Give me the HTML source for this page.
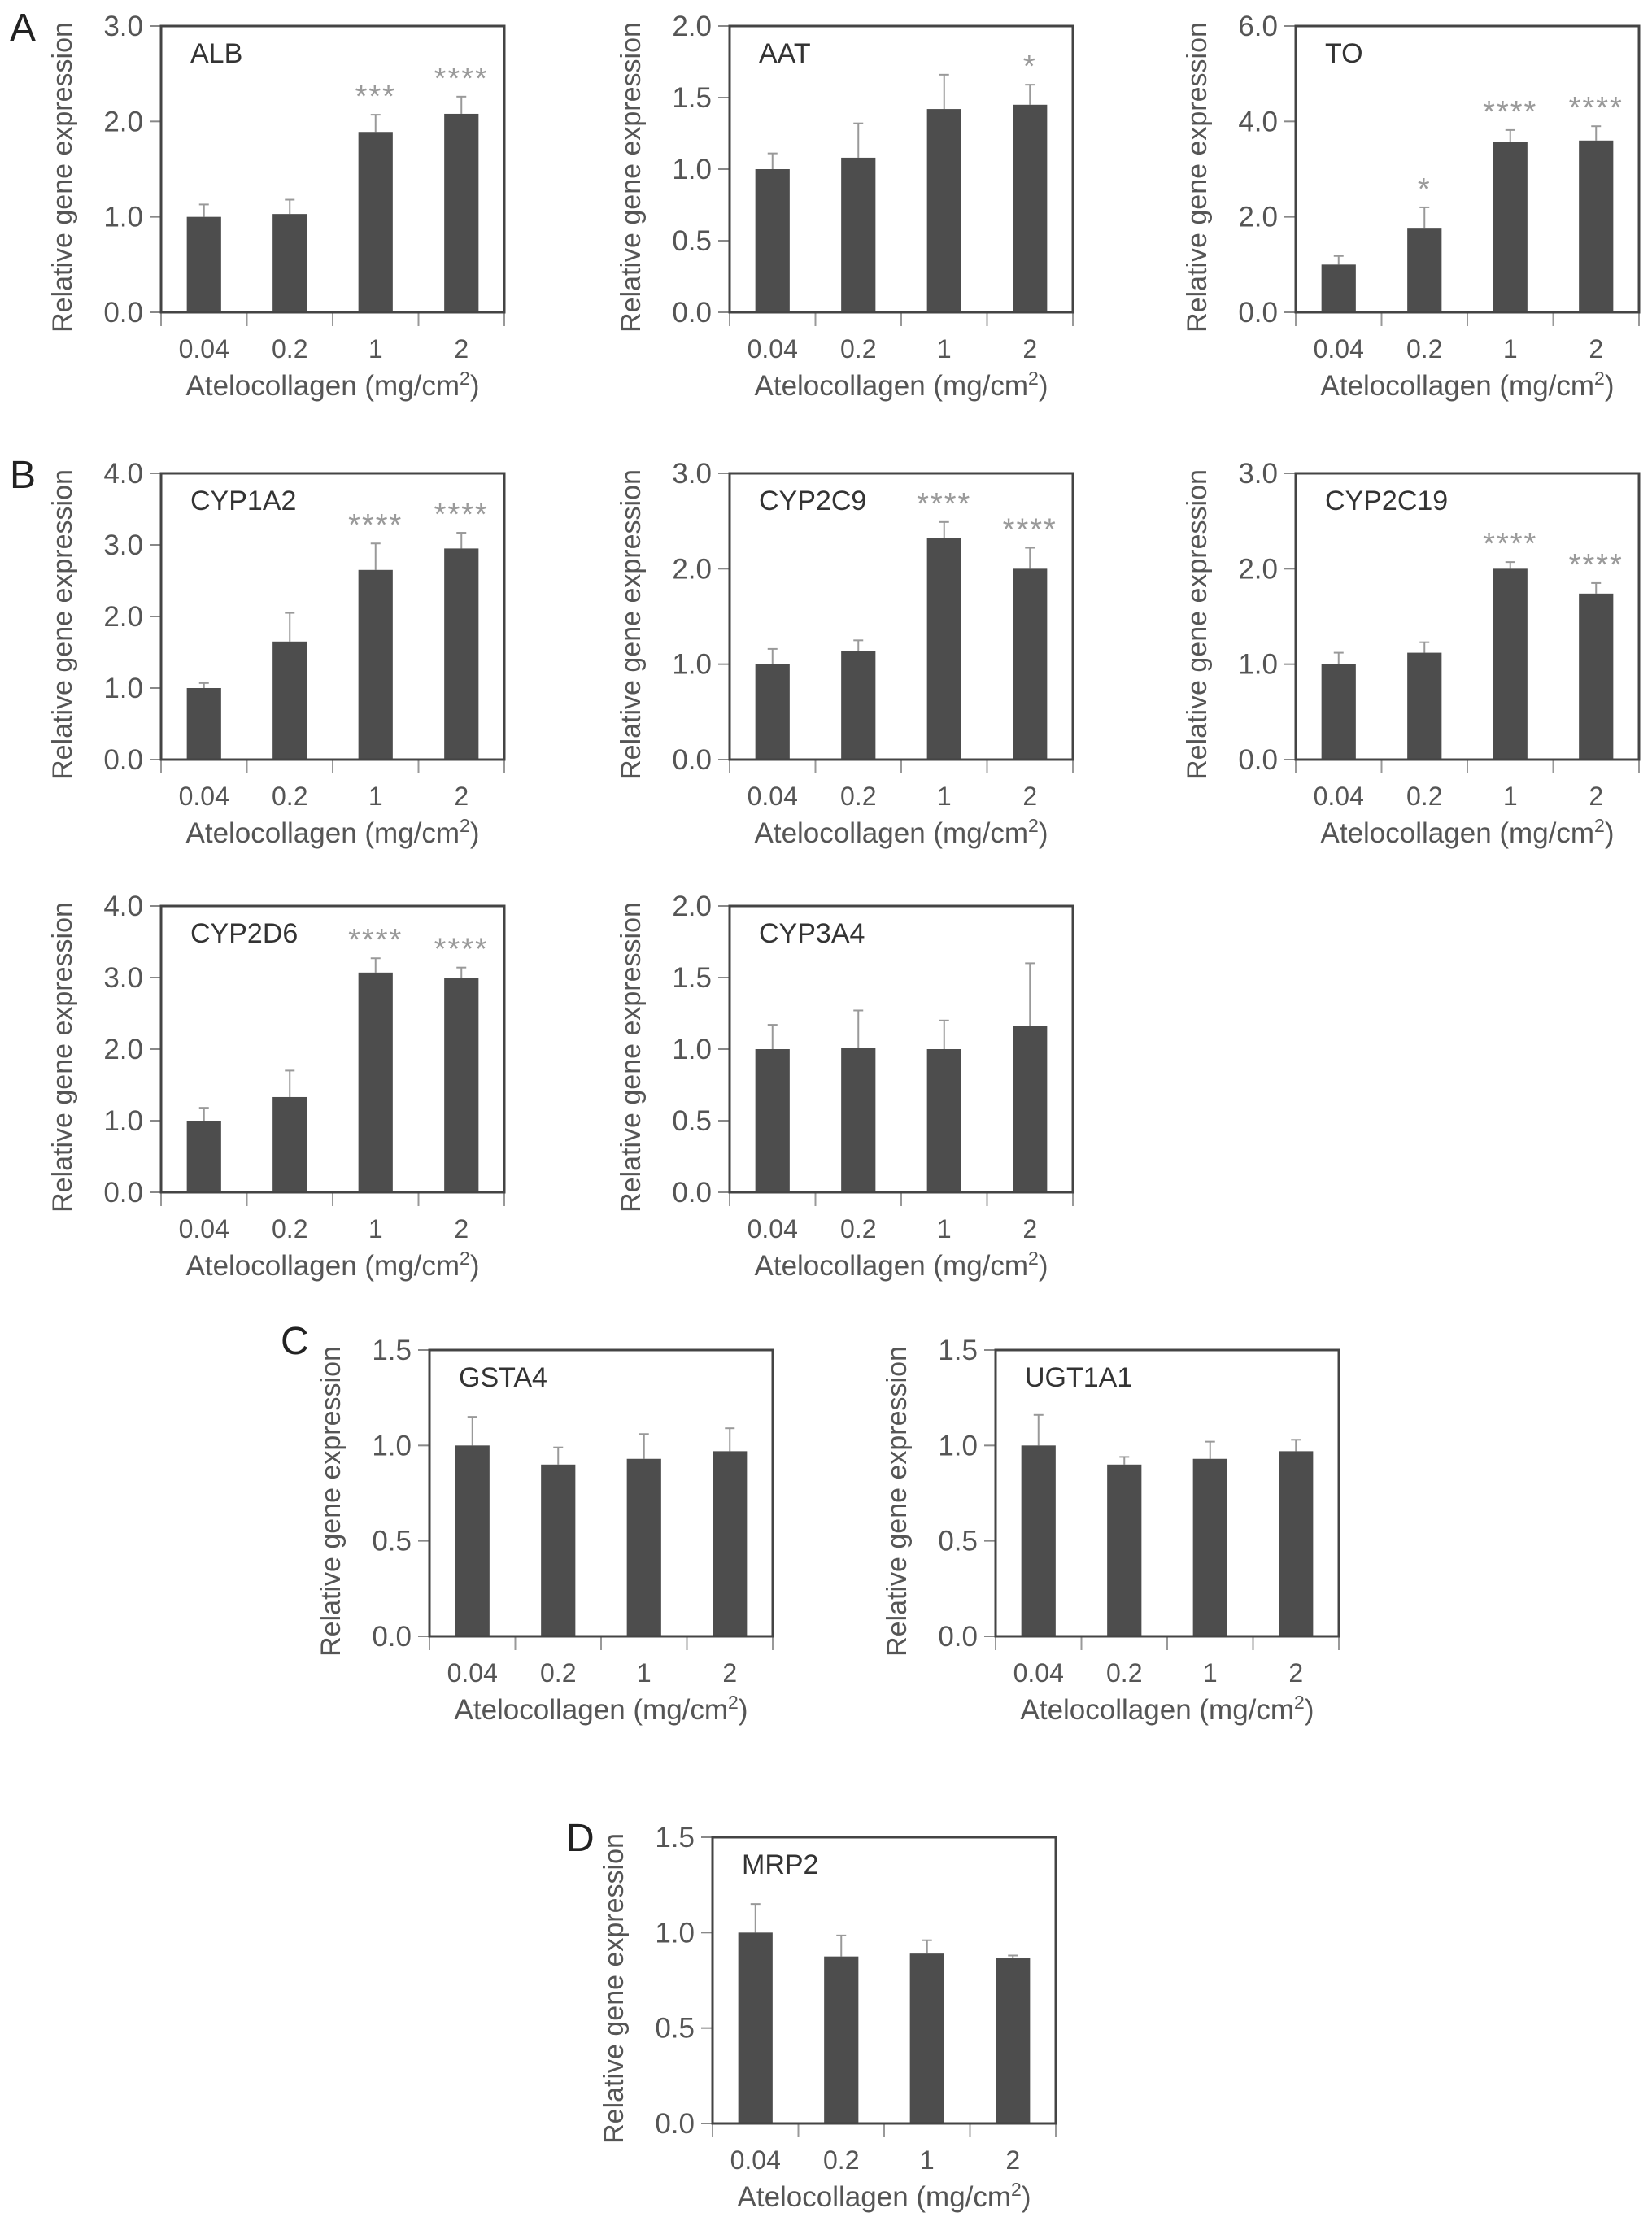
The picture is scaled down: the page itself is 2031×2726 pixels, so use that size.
<!DOCTYPE html>
<html><head><meta charset="utf-8">
<style>
html,body{margin:0;padding:0;background:#fff;}
svg{display:block;font-family:"Liberation Sans",sans-serif;}
</style></head>
<body>
<svg id="fig" width="2031" height="2726" viewBox="0 0 2031 2726" xmlns="http://www.w3.org/2000/svg"></svg>
<script>
const categories = ["0.04","0.2","1","2"];
const genes = ["ALB","AAT","TO","CYP1A2","CYP2C9","CYP2C19","CYP2D6","CYP3A4","GSTA4","UGT1A1","MRP2"];
const alb = [1.0,1.03,1.89,2.08];
const albErr = [0.13,0.15,0.18,0.18];
const aat = [1.0,1.08,1.42,1.45];
const aatErr = [0.11,0.24,0.24,0.14];
const to = [1.0,1.77,3.57,3.6];
const toErr = [0.18,0.43,0.25,0.3];
const cyp1a2 = [1.0,1.65,2.65,2.95];
const cyp1a2Err = [0.07,0.4,0.37,0.22];
const cyp2c9 = [1.0,1.14,2.32,2.0];
const cyp2c9Err = [0.16,0.11,0.17,0.22];
const cyp2c19 = [1.0,1.12,2.0,1.74];
const cyp2c19Err = [0.12,0.11,0.07,0.11];
const cyp2d6 = [1.0,1.33,3.07,2.99];
const cyp2d6Err = [0.18,0.37,0.2,0.15];
const cyp3a4 = [1.0,1.01,1.0,1.16];
const cyp3a4Err = [0.17,0.26,0.2,0.44];
const gsta4 = [1.0,0.9,0.93,0.97];
const gsta4Err = [0.15,0.09,0.13,0.12];
const ugt1a1 = [1.0,0.9,0.93,0.97];
const ugt1a1Err = [0.16,0.04,0.09,0.06];
const mrp2 = [1.0,0.875,0.89,0.865];
const mrp2Err = [0.15,0.11,0.07,0.015];
const albStars = ["","","***","****"];
const aatStars = ["","","","*"];
const toStars = ["","*","****","****"];
const cyp1a2Stars = ["","","****","****"];
const cyp2c9Stars = ["","","****","****"];
const cyp2c19Stars = ["","","****","****"];
const cyp2d6Stars = ["","","****","****"];
const noStars = ["","","",""];
const ticks3 = [0,1,2,3];
const ticks2 = [0,0.5,1,1.5,2];
const ticks6 = [0,2,4,6];
const ticks4 = [0,1,2,3,4];
const ticks15 = [0,0.5,1,1.5];

const NS="http://www.w3.org/2000/svg";
const svg=document.getElementById('fig');
function mk(tag,attrs,parent){const e=document.createElementNS(NS,tag);for(const k in attrs)e.setAttribute(k,attrs[k]);(parent||svg).appendChild(e);return e;}

const panels=[
 {g:0,v:alb,e:albErr,s:albStars,t:ticks3,x:198,y:32},
 {g:1,v:aat,e:aatErr,s:aatStars,t:ticks2,x:897,y:32},
 {g:2,v:to,e:toErr,s:toStars,t:ticks6,x:1593,y:32},
 {g:3,v:cyp1a2,e:cyp1a2Err,s:cyp1a2Stars,t:ticks4,x:198,y:582},
 {g:4,v:cyp2c9,e:cyp2c9Err,s:cyp2c9Stars,t:ticks3,x:897,y:582},
 {g:5,v:cyp2c19,e:cyp2c19Err,s:cyp2c19Stars,t:ticks3,x:1593,y:582},
 {g:6,v:cyp2d6,e:cyp2d6Err,s:cyp2d6Stars,t:ticks4,x:198,y:1114},
 {g:7,v:cyp3a4,e:cyp3a4Err,s:noStars,t:ticks2,x:897,y:1114},
 {g:8,v:gsta4,e:gsta4Err,s:noStars,t:ticks15,x:528,y:1660},
 {g:9,v:ugt1a1,e:ugt1a1Err,s:noStars,t:ticks15,x:1224,y:1660},
 {g:10,v:mrp2,e:mrp2Err,s:noStars,t:ticks15,x:876,y:2259}
];
const W=422,H=352;

panels.forEach(p=>{
  const name=genes[p.g].toLowerCase();
  const g=mk('g',{});
  
  
  const max=p.t[p.t.length-1];
  const yS=v=>p.y+H-(v/max)*H;
  const slot=W/categories.length;
  const xC=i=>p.x+slot*(i+0.5);
  p.t.forEach(t=>{
    const yy=yS(t);
    const tl=mk('line',{x1:p.x-14,x2:p.x,y1:yy,y2:yy,stroke:'#888','stroke-width':2},g);
    
    
    const tx=mk('text',{x:p.x-22,y:yy+12,'text-anchor':'end','font-size':35,fill:'#555'},g);
    tx.textContent=t.toFixed(1);
    
    
  });
  for(let i=0;i<=categories.length;i++){
    const xx=p.x+slot*i;
    const l=mk('line',{x1:xx,x2:xx,y1:p.y+H,y2:p.y+H+17,stroke:'#999','stroke-width':2},g);
    
    
  }
  categories.forEach((c,i)=>{
    const tx=mk('text',{x:xC(i),y:p.y+H+56,'text-anchor':'middle','font-size':32,fill:'#555'},g);
    tx.textContent=c;
    
    
  });
  const bw=slot*0.4;
  p.v.forEach((v,i)=>{
    const top=yS(v), etop=yS(v+p.e[i]);
    const el=mk('line',{x1:xC(i),x2:xC(i),y1:top,y2:etop,stroke:'#999','stroke-width':2},g);
    
    
    const cap=mk('line',{x1:xC(i)-6,x2:xC(i)+6,y1:etop,y2:etop,stroke:'#999','stroke-width':2},g);
    
    
    const r=mk('rect',{x:xC(i)-bw/2,y:top,width:bw,height:p.y+H-top,fill:'#4d4d4d'},g);
    
    
    if(p.s[i]){
      const st=mk('text',{x:xC(i),y:etop-10,'text-anchor':'middle','font-size':38,fill:'#9a9a9a','letter-spacing':2},g);
      st.textContent=p.s[i];
      
      
    }
  });
  const box=mk('rect',{x:p.x,y:p.y,width:W,height:H,fill:'none',stroke:'#444','stroke-width':3},g);
  
  
  const gl=mk('text',{x:p.x+36,y:p.y+45,'font-size':34,fill:'#333'},g);
  gl.textContent=genes[p.g];
  
  
  const yt=mk('text',{transform:`translate(${p.x-110},${p.y+H/2+10}) rotate(-90)`,'text-anchor':'middle','font-size':34,fill:'#555'},g);
  yt.textContent='Relative gene expression';
  
  
  const xt=mk('text',{x:p.x+W/2,y:p.y+H+102,'text-anchor':'middle','font-size':35,fill:'#555'},g);
  xt.innerHTML='Atelocollagen (mg/cm<tspan dy="-13" font-size="23">2</tspan><tspan dy="13">)</tspan>';
  
  
});
const letters=[["A",12,50],["B",12,600],["C",345,1665],["D",696,2276]];
letters.forEach(l=>{
  const t=mk('text',{x:l[1],y:l[2],'font-size':48,fill:'#222'});
  t.textContent=l[0];
  
  
});
</script>
</body></html>
